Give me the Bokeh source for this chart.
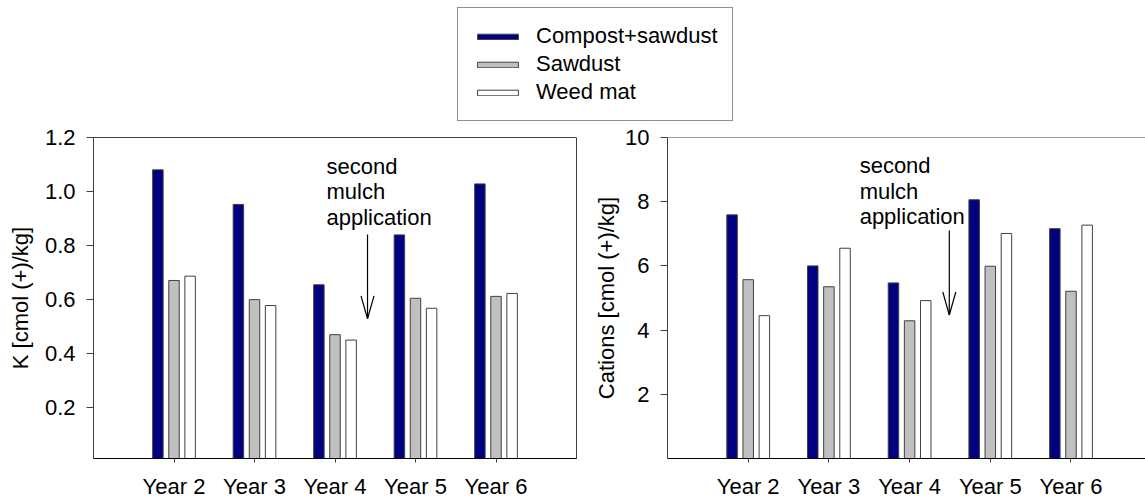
from bokeh.plotting import figure
from bokeh.models import (Range1d, FixedTicker, Legend, LegendItem, Label, Arrow,
                          ColumnDataSource, NumeralTickFormatter, Span)
from bokeh.layouts import column, row
from bokeh.transform import dodge
from bokeh.embed import file_html
from bokeh.resources import INLINE

# ---------------- data ----------------
years = ["Year 2", "Year 3", "Year 4", "Year 5", "Year 6"]
series = ["Compost+sawdust", "Sawdust", "Weed mat"]

k_compost = [1.080, 0.952, 0.654, 0.839, 1.028]
k_sawdust = [0.670, 0.599, 0.469, 0.604, 0.611]
k_weedmat = [0.686, 0.577, 0.449, 0.567, 0.622]

cat_compost = [7.59, 6.00, 5.47, 8.06, 7.16]
cat_sawdust = [5.57, 5.35, 4.29, 5.99, 5.21]
cat_weedmat = [4.45, 6.55, 4.92, 7.01, 7.27]

k_ticks = [0.2, 0.4, 0.6, 0.8, 1.0, 1.2]
cat_ticks = [2, 4, 6, 8, 10]

note_text = "second\nmulch\napplication"

# ---------------- style ----------------
FONT = "Liberation Sans"
FS = "22px"
COLORS = ["#000080", "#C0C0C0", "#FFFFFF"]
EDGE = "#404040"
OFFSETS = [-0.2, 0.0, 0.2]
BAR_W = 0.13

xpos = [int(y.split()[1]) for y in years]


def panel(width, bl, br, y_rng, x_end, ticks, fmt, ylabel, label_standoff, vals,
          note_xy, arrow, ppx, ppy, outline=True):
    p = figure(width=width, height=382, x_range=Range1d(1, x_end), y_range=Range1d(*y_rng),
               output_backend="svg", toolbar_location=None,
               min_border_left=bl, min_border_right=br, min_border_top=15, min_border_bottom=46)
    p.xgrid.visible = False
    p.ygrid.visible = False
    p.background_fill_color = "white"
    p.border_fill_color = "white"
    p.outline_line_color = EDGE if outline else None

    src = ColumnDataSource(dict(x=xpos, a=vals[0], b=vals[1], c=vals[2]))
    for off, col, fill in zip(OFFSETS, ["a", "b", "c"], COLORS):
        p.vbar(x=dodge("x", off), top=col, bottom=0, width=BAR_W, source=src,
               fill_color=fill, line_color=EDGE, line_width=1)

    if not outline:
        p.add_layout(Span(location=y_rng[1], dimension="width", line_color=EDGE, line_width=1))

    xa = p.xaxis[0]
    xa.ticker = FixedTicker(ticks=xpos)
    xa.major_label_overrides = {x: y for x, y in zip(xpos, years)}
    xa.minor_tick_line_color = None
    xa.major_tick_in = 0
    xa.major_tick_out = 4
    xa.major_tick_line_color = EDGE
    xa.axis_line_color = "black"
    xa.major_label_standoff = 11

    ya = p.yaxis[0]
    ya.ticker = FixedTicker(ticks=ticks)
    ya.formatter = NumeralTickFormatter(format=fmt)
    ya.minor_tick_line_color = None
    ya.major_tick_in = 0
    ya.major_tick_out = 7
    ya.major_tick_line_color = EDGE
    ya.axis_line_color = EDGE
    ya.major_label_standoff = 11
    ya.axis_label = ylabel
    ya.axis_label_standoff = label_standoff

    for ax in (xa, ya):
        ax.major_label_text_font = FONT
        ax.major_label_text_font_size = FS
        ax.major_label_text_color = "black"
        ax.axis_label_text_font = FONT
        ax.axis_label_text_font_size = FS
        ax.axis_label_text_font_style = "normal"
        ax.axis_label_text_color = "black"

    p.add_layout(Label(x=note_xy[0], y=note_xy[1], text=note_text, text_font=FONT,
                       text_font_size=FS, text_baseline="top", text_align="left",
                       text_line_height=1.03, text_color="black"))
    ax_x, y0, y1 = arrow
    dx, dy = 6.5 / ppx, 23.0 / ppy
    p.add_layout(Arrow(x_start=ax_x, y_start=y0, x_end=ax_x, y_end=y1, end=None,
                       line_color="black", line_width=1.2))
    for s in (-1, 1):
        p.add_layout(Arrow(x_start=ax_x + s * dx, y_start=y1 + dy, x_end=ax_x, y_end=y1,
                           end=None, line_color="black", line_width=1.2))
    return p


p1 = panel(585, 93, 9, (0.01, 1.2), 7.0, k_ticks, "0.0", "K [cmol (+)/kg]", 9,
           [k_compost, k_sawdust, k_weedmat], (3.894, 1.14), (4.404, 0.84, 0.528), 80.5, 270.0)
p2 = panel(560, 82, 0, (0, 10), 1 + 478.3 / 80.75, cat_ticks, "0", "Cations [cmol (+)/kg]", 3,
           [cat_compost, cat_sawdust, cat_weedmat], (3.381, 9.52), (4.492, 7.10, 4.47), 80.75, 32.06,
           outline=False)

# ---------------- legend strip ----------------
top = figure(width=1145, height=122, output_backend="svg", toolbar_location=None,
             x_range=Range1d(0, 1), y_range=Range1d(0, 1), min_border=0,
             x_axis_location=None, y_axis_location=None)
top.xgrid.visible = False
top.ygrid.visible = False
top.outline_line_color = None
items = []
for name, fill in zip(series, COLORS):
    # swatch renderers placed outside the visible range; only their legend glyphs show
    r = top.vbar(x=[5], top=[5], bottom=[4], width=0.1, fill_color=fill, line_color=EDGE, line_width=1)
    items.append(LegendItem(label=name, renderers=[r]))
legend = Legend(items=items, location=(457, 1), orientation="vertical",
                label_text_font=FONT, label_text_font_size=FS, label_text_color="black",
                glyph_width=51, glyph_height=7, label_height=28, label_standoff=13,
                padding=14, spacing=0, margin=0,
                border_line_color="#202020", border_line_width=1, background_fill_alpha=1)
top.add_layout(legend)

layout = column(top, row(p1, p2, spacing=0), spacing=0)
open("out.html", "w").write(file_html(layout, INLINE))
